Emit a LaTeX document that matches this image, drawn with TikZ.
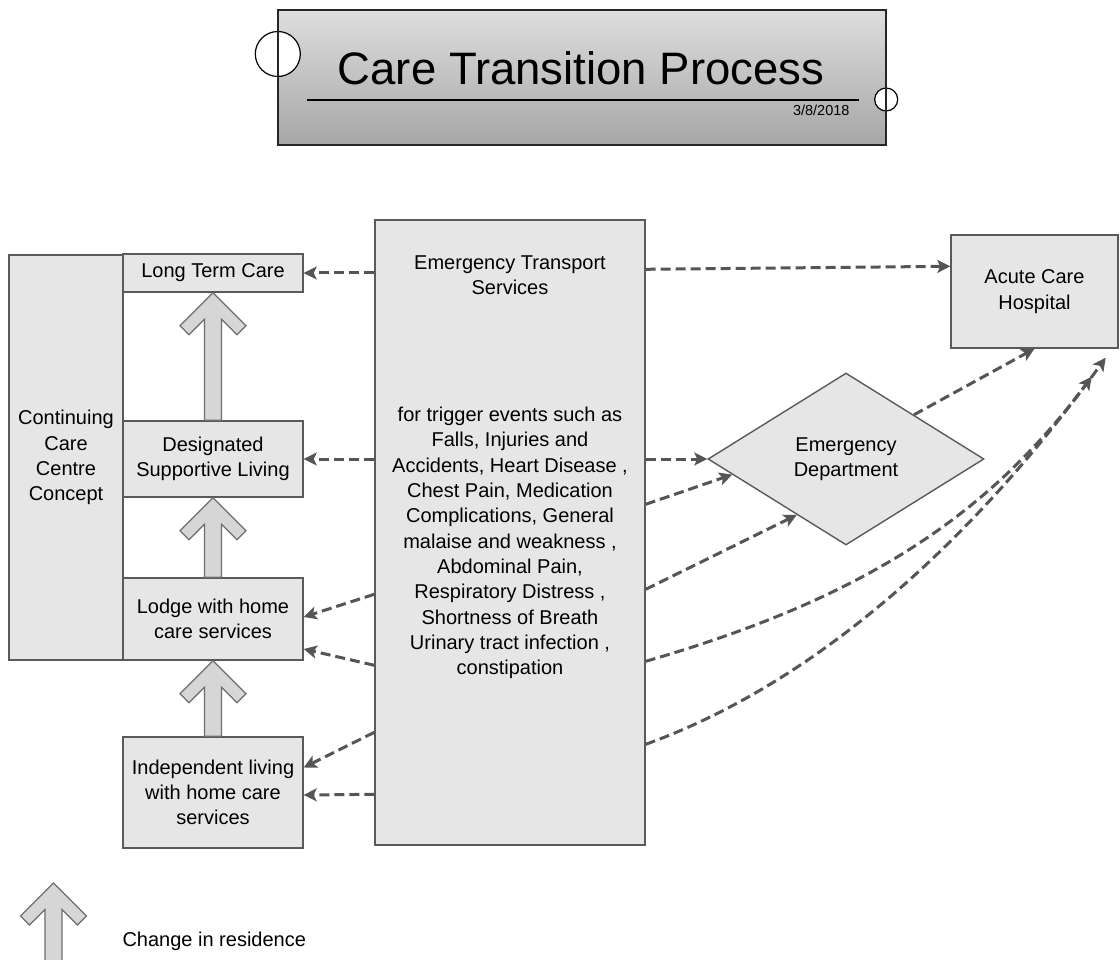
\documentclass[tikz,border=0pt]{standalone}
\usepackage{fontspec}
\setmainfont{Liberation Sans}
\usetikzlibrary{arrows.meta,calc,shapes.geometric}

\definecolor{boxfill}{HTML}{E6E6E6}
\definecolor{boxline}{HTML}{5A5A5A}
\definecolor{flowgray}{HTML}{555555}
\definecolor{movefill}{HTML}{D6D6D6}
\definecolor{moveline}{HTML}{6E6E6E}
\definecolor{bannertop}{HTML}{DEDEDE}
\definecolor{bannerbot}{HTML}{A6A6A6}

% thick "change in residence" arrow from the tip anchor #1 down to the base anchor #2
\newcommand{\resarrow}[2]{%
  \draw[move] (#1) -- ++(-33,-33) -- ++(9,-9)
    -- ([xshift=-8.5pt,yshift=-26.5pt]#1) -- ([xshift=-8.5pt]#2)
    -- ([xshift=8.5pt]#2) -- ([xshift=8.5pt,yshift=-26.5pt]#1)
    -- ++(15.5,-15.5) -- ++(9,9) -- cycle;}

\begin{document}
\begin{tikzpicture}[x=1pt,y=1pt,
  every node/.style={font=\fontsize{20}{25.3}\selectfont, text=black},
  box/.style={draw=boxline, line width=1.4pt, fill=boxfill, inner sep=0pt, align=center},
  flow/.style={draw=flowgray, line width=3pt, dash pattern=on 10pt off 5pt,
    -{Stealth[length=13pt,width=13pt,inset=3pt]}},
  move/.style={draw=moveline, line width=1.2pt, fill=movefill, line join=miter},
]
\fill[white] (0,0) rectangle (1120,-960);
\useasboundingbox (0,0) rectangle (1120,-960);

% ---- title banner ----
\node[minimum width=608pt, minimum height=135pt, inner sep=0pt,
      top color=bannertop, bottom color=bannerbot] (banner) at (582,-77.5) {};
\node[circle, draw=black, fill=white, line width=1.2pt, minimum size=45pt, inner sep=0pt]
  (ringl) at ([yshift=23.5pt]banner.west) {};
\node[circle, draw=black, fill=white, line width=1.2pt, minimum size=23pt, inner sep=0pt]
  (ringr) at ([yshift=-22pt]banner.east) {};
\draw[draw=black!85, line width=1.5pt] (banner.north west) rectangle (banner.south east);
\node[anchor=base, font=\fontsize{45.5}{50}\selectfont] (title) at (581,-85) {Care Transition Process};
\draw[line width=2pt] (307,-100) -- (859,-100);
\node[anchor=base east, font=\fontsize{14.5}{16}\selectfont] (date) at (853,-116) {3/8/2018};

% ---- residence boxes ----
\node[box, minimum width=114pt, minimum height=405pt] (ccc) at (66,-457.5)
  {Continuing\\Care\\Centre\\Concept};
\node[box, minimum width=180pt, minimum height=38pt] (ltc) at (213,-273) {Long Term Care};
\node[box, minimum width=180pt, minimum height=76pt] (dsl) at (213,-459)
  {Designated\\Supportive Living};
\node[box, minimum width=180pt, minimum height=82pt] (lodge) at (213,-619)
  {Lodge with home\\care services};
\node[box, minimum width=180pt, minimum height=111pt] (indep) at (213,-792.5)
  {Independent living\\with home care\\services};

% ---- transport services ----
\node[box, minimum width=270pt, minimum height=625pt] (ets) at (510,-532.5) {};
\node[align=center] (etstitle) at (510,-275) {Emergency Transport\\Services};
\node[align=center] (etsbody) at (510,-543)
  {for trigger events such as\\Falls, Injuries and\\Accidents, Heart Disease ,\\
   Chest Pain, Medication\\Complications, General\\malaise and weakness ,\\
   Abdominal Pain,\\Respiratory Distress ,\\Shortness of Breath\\
   Urinary tract infection ,\\constipation};

% ---- hospital side ----
\node[box, minimum width=167pt, minimum height=113pt] (ach) at (1034.5,-291.5)
  {Acute Care\\Hospital};
\node[box, diamond, minimum width=276pt, minimum height=172pt] (ed) at (846,-459)
  {Emergency\\Department};

% ---- changes in residence ----
\resarrow{ltc.south}{dsl.north}
\resarrow{dsl.south}{lodge.north}
\resarrow{lodge.south}{indep.north}

% ---- transport to residences ----
\draw[flow] (ets.west |- ltc.east) -- (ltc.east);
\draw[flow] (ets.west |- dsl.east) -- (dsl.east);
\draw[flow] ($(ets.north west)+(0,-375)$) -- ([yshift=2pt]lodge.east);
\draw[flow] ($(ets.north west)+(0,-446)$) -- ([yshift=-30pt]lodge.east);
\draw[flow] ($(ets.north west)+(0,-513)$) -- ([yshift=25pt]indep.east);
\draw[flow] ($(ets.north west)+(0,-575)$) -- ([yshift=-2.5pt]indep.east);

% ---- transport to emergency and acute care ----
\draw[flow] ($(ets.north east)+(0,-50)$) -- ($(ach.north west)+(0,-32)$);
\draw[flow] (ets.east |- ed.west) -- (ed.west);
\draw[flow] ($(ets.north east)+(0,-285)$) -- ($(ed.west)!0.18!(ed.south)$);
\draw[flow] ($(ets.north east)+(0,-370)$) -- ($(ed.west)!0.645!(ed.south)$);
\draw[flow] ($(ed.north)!0.49!(ed.east)$) -- (ach.south);
\coordinate (achin1) at ($(ach.south east)+(-27,-28)$);
\coordinate (achin2) at ($(ach.south east)+(-13,-9)$);
\draw[flow] ($(ets.north east)+(0,-442)$) .. controls (857.5,-600) and (985,-520) .. (achin1);
\draw[flow] ($(ets.north east)+(0,-525)$) .. controls (833,-676.6) and (989,-518.8) .. (achin2);

% ---- legend ----
\coordinate (legtip) at (53.5,-883);
\coordinate (legfoot) at (53.5,-966);
\resarrow{legtip}{legfoot}
\node[anchor=base west] (legtext) at (119,-946) {Change in residence};
\end{tikzpicture}
\end{document}
